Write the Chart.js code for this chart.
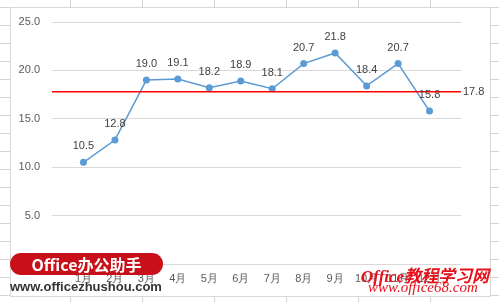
<!DOCTYPE html>
<html>
<head>
<meta charset="utf-8">
<script src="https://cdn.jsdelivr.net/npm/chart.js"></script>
<style>
  html, body { margin: 0; padding: 0; }
  body {
    width: 499px; height: 302px; position: relative; overflow: hidden;
    background-color: #fff;
    background-image:
      repeating-linear-gradient(to bottom, transparent 0, transparent 7px, #d4d4d4 7px, #d4d4d4 8px, transparent 8px, transparent 18px),
      repeating-linear-gradient(to right, transparent 0, transparent 70px, #d4d4d4 70px, #d4d4d4 71px, transparent 71px, transparent 72px);
    background-size: 499px 18px, 72px 302px;
  }
  #box {
    position: absolute; left: 10px; top: 7px; width: 479px; height: 288px;
    background: #fff; border: 1px solid #d9d9d9;
  }
  canvas { position: absolute; left: 0; top: 0; }
  .wm { position: absolute; white-space: nowrap; }
  #wm1 {
    left: 10px; top: 253px; width: 153px; height: 22px; border-radius: 11px;
    background: #c8101a; color: #fff; font: bold 16px "Noto Sans CJK SC", "Liberation Sans", sans-serif;
    line-height: 22px; text-align: center;
  }
  #wm2 { left: 10px; top: 279px; color: #333; font: bold 13px "Liberation Sans", sans-serif; }
  #wm3 { left: 361px; top: 262px; color: #e8101a; font: italic bold 17px "Liberation Serif", "Noto Sans CJK SC", serif; }
  #wm4 { left: 368px; top: 279px; color: #e8101a; font: italic 15px "Liberation Serif", serif; }
</style>
</head>
<body>
<div id="box"></div>
<canvas id="c" width="499" height="302"></canvas>
<div class="wm" id="wm1">Office办公助手</div>
<div class="wm" id="wm2">www.officezhushou.com</div>
<div class="wm" id="wm3">Office教程学习网</div>
<div class="wm" id="wm4">www.office68.com</div>
<script>
const months = ['1月','2月','3月','4月','5月','6月','7月','8月','9月','10月','11月','12月'];
const values = [10.5, 12.8, 19.0, 19.1, 18.2, 18.9, 18.1, 20.7, 21.8, 18.4, 20.7, 15.8];
const average = 17.8;
const yMin = 0, yMax = 25, yStep = 5;

// draws the value labels and the average label
const labelPlugin = {
  id: 'labels',
  afterDatasetsDraw(chart) {
    const ctx = chart.ctx;
    ctx.save();
    ctx.font = '11px "Liberation Sans", Arial, sans-serif';
    ctx.fillStyle = '#404040';
    ctx.textAlign = 'center';
    ctx.textBaseline = 'middle';
    chart.getDatasetMeta(1).data.forEach((pt, i) => {
      ctx.fillText(values[i].toFixed(1), pt.x, pt.y - 16);
    });
    const avg = chart.getDatasetMeta(0).data;
    const last = avg[avg.length - 1];
    ctx.textAlign = 'left';
    ctx.fillText(average.toFixed(1), last.x + 2, last.y);
    ctx.restore();
  }
};

new Chart(document.getElementById('c'), {
  type: 'line',
  data: {
    datasets: [
      {
        data: [{x: 0, y: average}, {x: months.length + 1, y: average}],
        borderColor: '#ff0000',
        borderWidth: 1.5,
        pointRadius: 0
      },
      {
        data: values.map((v, i) => ({x: i + 1, y: v})),
        borderColor: '#5b9bd5',
        backgroundColor: '#5b9bd5',
        borderWidth: 1.5,
        pointRadius: 3.5,
        pointBorderWidth: 0,
        pointBackgroundColor: '#5b9bd5'
      }
    ]
  },
  options: {
    responsive: false,
    animation: false,
    layout: { padding: { top: 22, right: 38, left: 0, bottom: 0 } },
    plugins: { legend: { display: false }, tooltip: { enabled: false } },
    scales: {
      x: {
        type: 'linear',
        min: 0,
        max: months.length + 1,
        grid: { display: false, drawTicks: false },
        border: { display: false },
        afterFit(s) { s.height = 38; },
        ticks: {
          stepSize: 1,
          autoSkip: false,
          maxRotation: 0,
          padding: 8,
          color: '#595959',
          font: { size: 11, family: '"Liberation Sans", Arial, sans-serif' },
          callback: v => months[v - 1] || ''
        }
      },
      y: {
        min: yMin,
        max: yMax,
        grid: { color: '#d9d9d9', drawTicks: false },
        border: { display: false },
        afterFit(s) { s.width = 52; },
        ticks: {
          stepSize: yStep,
          padding: 12,
          color: '#595959',
          font: { size: 11, family: '"Liberation Sans", Arial, sans-serif' },
          callback: v => v.toFixed(1)
        }
      }
    }
  },
  plugins: [labelPlugin]
});
</script>
</body>
</html>
